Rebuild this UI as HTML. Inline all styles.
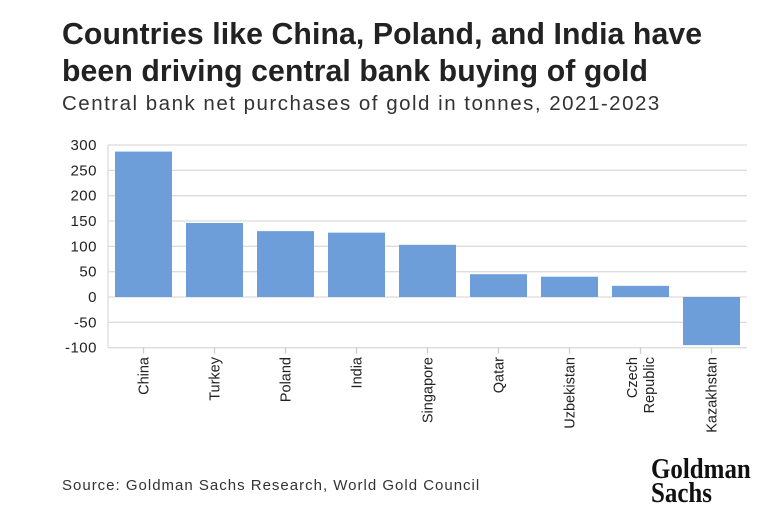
<!DOCTYPE html>
<html><head><meta charset="utf-8"><style>
body{margin:0;width:780px;height:521px;background:#fff;font-family:"Liberation Sans",sans-serif;overflow:hidden;position:relative}
#t{position:absolute;left:62px;top:16px;font-size:30.2px;font-weight:bold;color:#222;line-height:37px;letter-spacing:0.1px}
#s{position:absolute;left:62px;top:92px;font-size:20.5px;color:#333;letter-spacing:1.5px}
#src{position:absolute;left:62px;top:477px;font-size:15px;color:#333;letter-spacing:1px}
#logo{position:absolute;left:651px;top:457px;font-family:"Liberation Serif",serif;font-weight:bold;font-size:29px;line-height:24px;color:#111;transform:scaleX(0.86);transform-origin:left}
</style></head><body>
<div id="t">Countries like China, Poland, and India have<br>been driving central bank buying of gold</div>
<div id="s">Central bank net purchases of gold in tonnes, 2021-2023</div>
<svg id="c" width="780" height="521" style="position:absolute;left:0;top:0"></svg>
<div id="src">Source: Goldman Sachs Research, World Gold Council</div>
<div id="logo">Goldman<br>Sachs</div>
<script>
const categories=["China","Turkey","Poland","India","Singapore","Qatar","Uzbekistan","Czech|Republic","Kazakhstan"];
const values=[287,146,130,127,103,45,40,22,-95];
const yTicks=[300,250,200,150,100,50,0,-50,-100];
const NS="http://www.w3.org/2000/svg";
const svg=document.getElementById('c');
const L=108,R=747,band=(R-L)/categories.length;
const y=v=>297-v*(152/300);
const x=i=>L+i*band;
function mk(t,a){const e=document.createElementNS(NS,t);for(const k in a)e.setAttribute(k,a[k]);svg.appendChild(e);return e;}
yTicks.forEach(v=>{
 const g=mk('line',{x1:L,x2:R,y1:y(v),y2:y(v),stroke:'#dcdcdc','stroke-width':1.3});
 
 
 const t=mk('text',{x:97,y:y(v)+5,'text-anchor':'end','font-size':15,fill:'#222','letter-spacing':0.5});
 t.textContent=v;
 
 
});
mk('line',{x1:L,x2:L,y1:y(300),y2:y(-100),stroke:'#dcdcdc','stroke-width':1.3});
categories.forEach((c,i)=>{
 const v=values[i];
 const b=mk('rect',{x:x(i)+7,width:band-14,y:Math.min(y(v),y(0)),height:Math.abs(y(v)-y(0)),fill:'#6d9ed9'});
 
 
 const cx=x(i)+band/2;
 mk('line',{x1:cx,x2:cx,y1:y(-100),y2:y(-100)+6,stroke:'#ccc','stroke-width':1.3});
 const lines=c.split('|');
 lines.forEach((s,j)=>{
  const off=(j-(lines.length-1)/2)*17+5;
  const t=mk('text',{transform:`translate(${cx+off},357) rotate(-90)`,'text-anchor':'end','font-size':14.5,fill:'#222'});
  t.textContent=s;
  
  
 });
});
</script>
</body></html>
